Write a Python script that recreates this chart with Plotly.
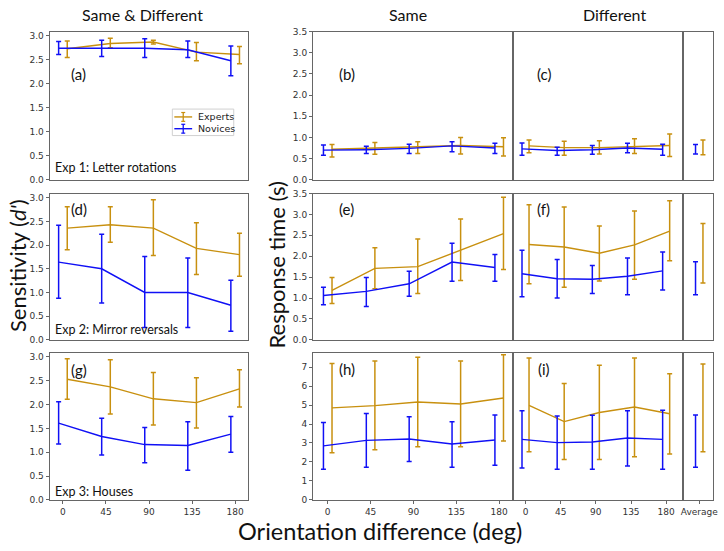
import plotly.graph_objects as go

W, H = 724, 551

# ---------------- data ----------------
angles = [0, 45, 90, 135, 180]
tick_labels = ["0", "45", "90", "135", "180"]
series_names = ["Experts", "Novices"]

# Sensitivity (d') : Exp1 letter rotations (a)
a_exp = [2.73, 2.84, 2.87, 2.66, 2.61]
a_exp_hi = [2.89, 2.95, 2.91, 2.86, 2.78]
a_exp_lo = [2.55, 2.75, 2.83, 2.48, 2.42]
a_nov = [2.74, 2.74, 2.74, 2.71, 2.48]
a_nov_hi = [2.88, 2.91, 2.94, 2.89, 2.79]
a_nov_lo = [2.61, 2.57, 2.55, 2.55, 2.17]

# (d) Exp2 mirror reversals
d_exp = [2.36, 2.43, 2.36, 1.93, 1.80]
d_exp_hi = [2.81, 2.81, 2.96, 2.47, 2.25]
d_exp_lo = [1.90, 2.06, 1.78, 1.38, 1.34]
d_nov = [1.64, 1.50, 1.00, 1.00, 0.73]
d_nov_hi = [2.42, 2.23, 1.76, 1.73, 1.26]
d_nov_lo = [0.88, 0.78, 0.26, 0.26, 0.18]

# (g) Exp3 houses
g_exp = [2.53, 2.37, 2.12, 2.04, 2.33]
g_exp_hi = [2.96, 2.94, 2.67, 2.56, 2.73]
g_exp_lo = [2.11, 1.80, 1.57, 1.51, 1.95]
g_nov = [1.61, 1.33, 1.16, 1.14, 1.38]
g_nov_hi = [2.06, 1.71, 1.52, 1.64, 1.75]
g_nov_lo = [1.17, 0.94, 0.78, 0.62, 1.00]

# Response time: Same (b,e,h)
b_exp = [0.72, 0.75, 0.77, 0.81, 0.78]
b_exp_hi = [0.83, 0.88, 0.90, 1.00, 0.99]
b_exp_lo = [0.54, 0.60, 0.62, 0.61, 0.56]
b_nov = [0.70, 0.71, 0.74, 0.80, 0.75]
b_nov_hi = [0.82, 0.79, 0.84, 0.90, 0.86]
b_nov_lo = [0.58, 0.62, 0.62, 0.66, 0.62]

e_exp = [1.18, 1.71, 1.75, 2.14, 2.54]
e_exp_hi = [1.49, 2.20, 2.41, 2.89, 3.41]
e_exp_lo = [0.87, 1.22, 1.11, 1.42, 1.68]
e_nov = [1.06, 1.16, 1.34, 1.86, 1.73]
e_nov_hi = [1.26, 1.49, 1.64, 2.31, 2.04]
e_nov_lo = [0.84, 0.80, 1.04, 1.40, 1.40]

h_exp = [4.85, 4.97, 5.16, 5.06, 5.37]
h_exp_hi = [7.20, 7.32, 7.53, 7.32, 7.65]
h_exp_lo = [2.49, 2.64, 2.80, 2.80, 3.10]
h_nov = [2.85, 3.14, 3.21, 2.95, 3.16]
h_nov_hi = [4.08, 4.55, 4.39, 4.12, 4.48]
h_nov_lo = [1.61, 1.72, 2.02, 1.72, 1.82]

# Response time: Different (c,f,i)
c_exp = [0.80, 0.76, 0.76, 0.78, 0.81]
c_exp_hi = [0.94, 0.91, 0.92, 0.97, 1.08]
c_exp_lo = [0.64, 0.58, 0.61, 0.62, 0.55]
c_nov = [0.73, 0.69, 0.71, 0.75, 0.72]
c_nov_hi = [0.87, 0.77, 0.81, 0.86, 0.84]
c_nov_lo = [0.58, 0.58, 0.60, 0.64, 0.58]

f_exp = [2.28, 2.22, 2.07, 2.27, 2.60]
f_exp_hi = [3.23, 3.18, 2.72, 3.08, 3.33]
f_exp_lo = [1.34, 1.26, 1.41, 1.45, 1.89]
f_nov = [1.58, 1.46, 1.45, 1.52, 1.65]
f_nov_hi = [2.14, 1.92, 1.78, 1.96, 2.10]
f_nov_lo = [1.03, 1.00, 1.11, 1.08, 1.19]

i_exp = [4.99, 4.13, 4.61, 4.90, 4.54]
i_exp_hi = [7.48, 6.14, 7.10, 7.48, 6.65]
i_exp_lo = [2.54, 2.13, 2.13, 2.28, 2.42]
i_nov = [3.19, 3.02, 3.05, 3.26, 3.19]
i_nov_hi = [4.70, 4.43, 4.46, 4.70, 4.73]
i_nov_lo = [1.68, 1.61, 1.61, 1.78, 1.61]

# Averages (row 1..3): centre, upper, lower
avg_exp = [0.80, 2.07, 4.85]
avg_exp_hi = [0.94, 2.78, 7.17]
avg_exp_lo = [0.59, 1.36, 2.54]
avg_nov = [0.72, 1.48, 3.10]
avg_nov_hi = [0.83, 1.87, 4.48]
avg_nov_lo = [0.61, 1.08, 1.72]

EXP_COLOR = "#c8900f"
NOV_COLOR = "#1010f5"
FRAME = "#666666"
TICKFONT = dict(family="DejaVu Sans", size=9, color="#333333")
LABFONT = "Lato"

# ---------------- layout geometry (pixels) ----------------
cols = {"L": (48, 248), "M": (314, 516), "R": (516, 688), "A": (688, 718)}
rows = [(27, 178), (192, 341), (354, 504)]


def xdom(c):
    a, b = cols[c]
    return [a / W, b / W]


def ydom(r):
    t, b = rows[r]
    return [1 - b / H, 1 - t / H]


fig = go.Figure()
layout = {}
OFF = 4.5

panels = [
    ("L", 0, a_exp, a_exp_hi, a_exp_lo, a_nov, a_nov_hi, a_nov_lo, [0, 3.09], [0, 0.5, 1, 1.5, 2, 2.5, 3]),
    ("M", 0, b_exp, b_exp_hi, b_exp_lo, b_nov, b_nov_hi, b_nov_lo, [0, 3.5], [0, 0.5, 1, 1.5, 2, 2.5, 3, 3.5]),
    ("R", 0, c_exp, c_exp_hi, c_exp_lo, c_nov, c_nov_hi, c_nov_lo, [0, 3.5], None),
    ("L", 1, d_exp, d_exp_hi, d_exp_lo, d_nov, d_nov_hi, d_nov_lo, [0, 3.09], [0, 0.5, 1, 1.5, 2, 2.5, 3]),
    ("M", 1, e_exp, e_exp_hi, e_exp_lo, e_nov, e_nov_hi, e_nov_lo, [0, 3.5], [0, 0.5, 1, 1.5, 2, 2.5, 3, 3.5]),
    ("R", 1, f_exp, f_exp_hi, f_exp_lo, f_nov, f_nov_hi, f_nov_lo, [0, 3.5], None),
    ("L", 2, g_exp, g_exp_hi, g_exp_lo, g_nov, g_nov_hi, g_nov_lo, [0, 3.09], [0, 0.5, 1, 1.5, 2, 2.5, 3]),
    ("M", 2, h_exp, h_exp_hi, h_exp_lo, h_nov, h_nov_hi, h_nov_lo, [0, 7.77], [0, 1, 2, 3, 4, 5, 6, 7]),
    ("R", 2, i_exp, i_exp_hi, i_exp_lo, i_nov, i_nov_hi, i_nov_lo, [0, 7.77], None),
]

xranges = {"L": [-14, 193], "M": [-15.5, 194.5], "R": [-16, 202]}

n = 0
for (col, row, ex, exh, exl, nv, nvh, nvl, yr, yt) in panels:
    n += 1
    xa = "xaxis" if n == 1 else f"xaxis{n}"
    ya = "yaxis" if n == 1 else f"yaxis{n}"
    xr = "x" if n == 1 else f"x{n}"
    yrf = "y" if n == 1 else f"y{n}"
    bottom = row == 2
    layout[xa] = dict(domain=xdom(col), anchor=yrf, range=xranges[col],
                      tickvals=angles if bottom else [], ticktext=tick_labels,
                      showticklabels=bottom, ticks="outside" if bottom else "",
                      ticklen=3, tickcolor=FRAME, tickfont=TICKFONT,
                      showline=True, linecolor=FRAME, linewidth=1, mirror=True,
                      showgrid=False, zeroline=False)
    layout[ya] = dict(domain=ydom(row), anchor=xr, range=yr,
                      tickvals=yt if yt else [], showticklabels=bool(yt),
                      ticks="outside" if yt else "", ticklen=3, tickcolor=FRAME,
                      tickfont=TICKFONT, tickformat=".1f" if col != "M" or row != 2 else "d",
                      showline=True, linecolor=FRAME, linewidth=1, mirror=True,
                      showgrid=False, zeroline=False)
    for vals, hi, lo, color, name, off in [
        (ex, exh, exl, EXP_COLOR, series_names[0], OFF),
        (nv, nvh, nvl, NOV_COLOR, series_names[1], -OFF),
    ]:
        fig.add_trace(go.Scatter(
            x=[a + off for a in angles], y=vals, mode="lines",
            line=dict(color=color, width=1.4), name=name,
            showlegend=False, xaxis=xr, yaxis=yrf,
            error_y=dict(type="data", symmetric=False,
                         array=[h - v for h, v in zip(hi, vals)],
                         arrayminus=[v - l for v, l in zip(vals, lo)],
                         color=color, thickness=1.5, width=2.5),
        ))

# Average panels
for row in range(3):
    n += 1
    xa, ya = f"xaxis{n}", f"yaxis{n}"
    xr, yrf = f"x{n}", f"y{n}"
    bottom = row == 2
    yr = [0, 3.5] if row < 2 else [0, 7.77]
    layout[xa] = dict(domain=xdom("A"), anchor=yrf, range=[-1.07, 0.93],
                      tickvals=[0] if bottom else [], ticktext=["Average"],
                      showticklabels=bottom, ticks="outside" if bottom else "",
                      ticklen=3, tickcolor=FRAME, tickfont=TICKFONT,
                      showline=True, linecolor=FRAME, linewidth=1, mirror=True,
                      showgrid=False, zeroline=False)
    layout[ya] = dict(domain=ydom(row), anchor=xr, range=yr, tickvals=[],
                      showticklabels=False, showline=True, linecolor=FRAME,
                      linewidth=1, mirror=True, showgrid=False, zeroline=False)
    for v, hi, lo, color, name, off in [
        (avg_exp[row], avg_exp_hi[row], avg_exp_lo[row], EXP_COLOR, series_names[0], 0.25),
        (avg_nov[row], avg_nov_hi[row], avg_nov_lo[row], NOV_COLOR, series_names[1], -0.25),
    ]:
        fig.add_trace(go.Scatter(
            x=[off], y=[v], mode="markers", name=name,
            marker=dict(size=0.1, color=color, opacity=0),
            showlegend=False, xaxis=xr, yaxis=yrf,
            error_y=dict(type="data", symmetric=False, array=[hi - v],
                         arrayminus=[v - lo], color=color, thickness=1.5, width=2.5),
        ))

annotations = []
shapes = []


def ann(text, px, py, size, xanchor="center", yanchor="middle", angle=0,
        family=LABFONT, color="#111111"):
    annotations.append(dict(text=text, x=px / W, y=1 - py / H, xref="paper", yref="paper",
                            showarrow=False, xanchor=xanchor, yanchor=yanchor, textangle=angle,
                            font=dict(family=family, size=size, color=color)))


def pline(x0, y0, x1, y1, color, width):
    shapes.append(dict(type="line", xref="paper", yref="paper",
                       x0=x0 / W, y0=1 - y0 / H, x1=x1 / W, y1=1 - y1 / H,
                       line=dict(color=color, width=width)))


ann("Same &amp; Different", 142, 10, 16)
ann("Same", 410, 10, 16)
ann("Different", 618, 10, 16)
ann("Sensitivity (<i>d'</i>)", 15, 265, 22, angle=-90)
ann("Response time (s)", 277, 265, 22, angle=-90)
ann("Orientation difference (deg)", 382, 536, 23.5)

for lab, px, py in [("(a)", 77, 70), ("(b)", 348, 70), ("(c)", 547, 70),
                    ("(d)", 78, 208), ("(e)", 348, 208), ("(f)", 547, 208),
                    ("(g)", 78, 372), ("(h)", 348, 371), ("(i)", 547, 371)]:
    ann(lab, px, py, 15)

ann("Exp 1: Letter rotations", 52, 166, 12.5, xanchor="left")
ann("Exp 2: Mirror reversals", 52, 331, 12.5, xanchor="left")
ann("Exp 3: Houses", 52, 496, 12.5, xanchor="left")

# legend (panel a)
shapes.append(dict(type="rect", xref="paper", yref="paper",
                   x0=172 / W, x1=234 / W, y0=1 - 133 / H, y1=1 - 106 / H,
                   line=dict(color="#d0d0d0", width=1), fillcolor="white"))
for name, color, ly in [(series_names[0], EXP_COLOR, 114), (series_names[1], NOV_COLOR, 126)]:
    pline(174, ly, 192, ly, color, 1.4)
    pline(183, ly - 4.5, 183, ly + 4.5, color, 1.3)
    pline(181, ly - 4.5, 185, ly - 4.5, color, 1.2)
    pline(181, ly + 4.5, 185, ly + 4.5, color, 1.2)
    ann(name, 196, ly, 9.5, xanchor="left", family="DejaVu Sans", color="#222222")

fig.update_layout(
    width=W, height=H, margin=dict(l=0, r=0, t=0, b=0),
    paper_bgcolor="white", plot_bgcolor="white",
    annotations=annotations, shapes=shapes, showlegend=False,
    **layout,
)

fig.write_html("out.html")
